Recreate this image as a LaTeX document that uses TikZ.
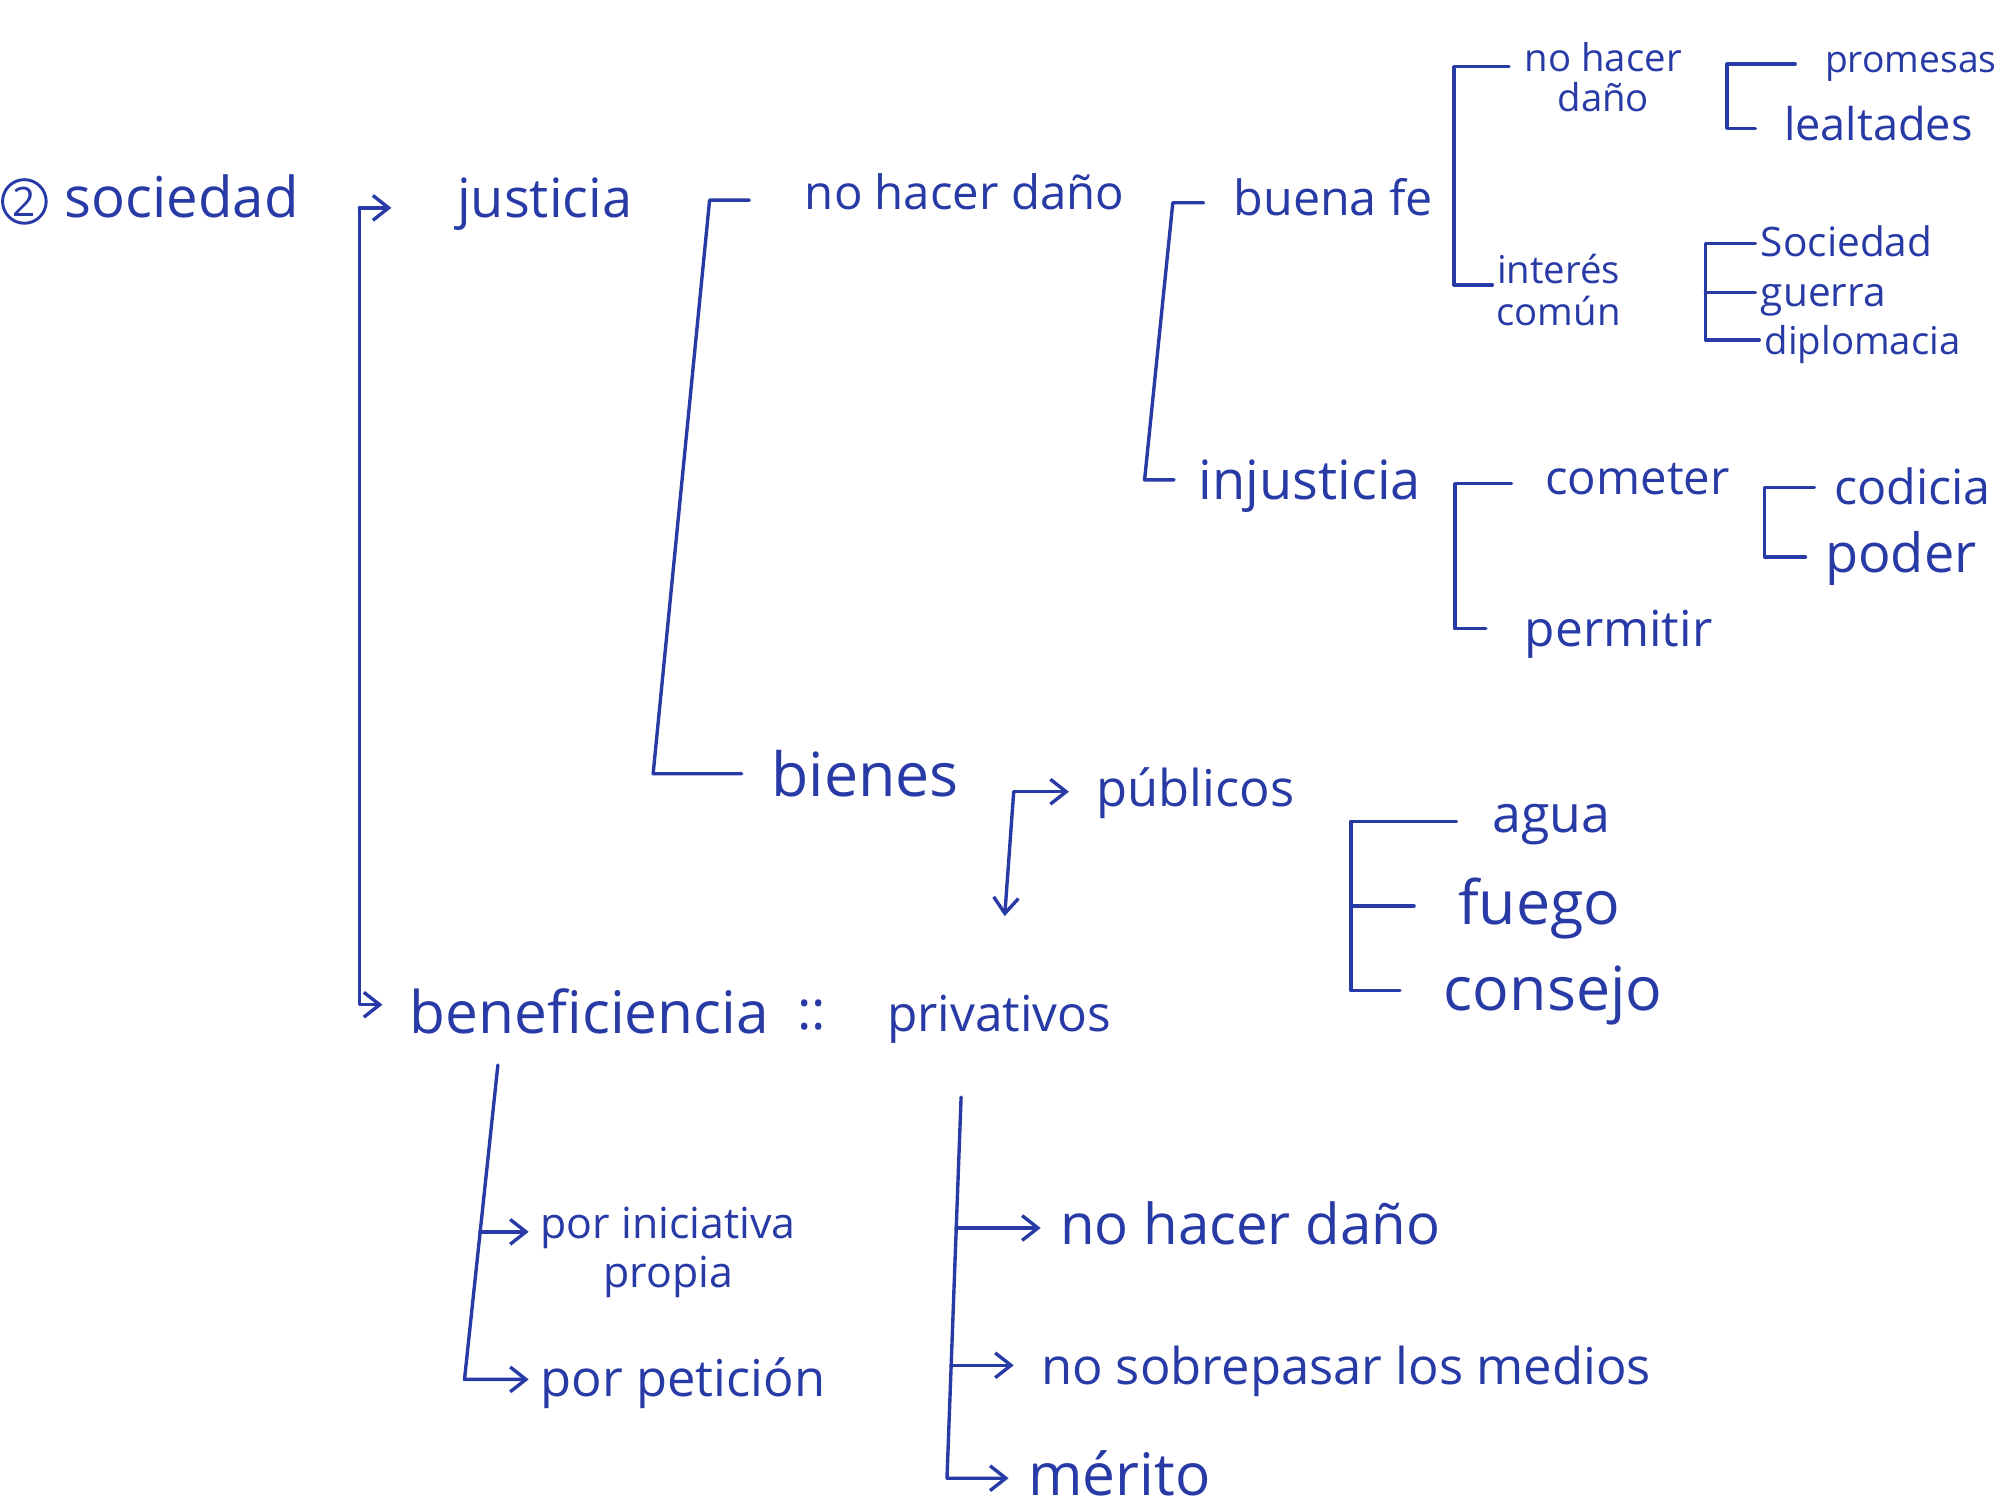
\documentclass[tikz,border=0pt]{standalone}
\usepackage{fontspec}
\setmainfont{Open Sans}
\usetikzlibrary{arrows.meta}
\definecolor{ink}{RGB}{40,58,165}
\begin{document}
\begin{tikzpicture}[x=0.02cm,y=-0.02cm,line width=1.5pt,draw=ink,line cap=round,line join=round,
  t/.style={anchor=mid west,inner sep=0pt,text=ink,yshift={-#1*0.008cm},font=\fontsize{#1}{#1}\selectfont},
  tm/.style 2 args={anchor=west,inner sep=0pt,align=center,text=ink,font=\fontsize{#1}{#2}\selectfont},
  ar/.style={-{Straight Barb[length=7pt,width=11pt]}}]
\fill[white] (0,0) rectangle (1568,1175);
\useasboundingbox (0,0) rectangle (1568,1175);
% ---- nodes ----
\node[draw=ink,circle,line width=1.3pt,minimum size=0.68cm,inner sep=0pt,text=ink,font=\fontsize{18}{18}\selectfont] (n2) at (19,157) {2};
\node[t=25] (soc) at (49,155) {sociedad};
\node[t=24] (jus) at (355,155) {justicia};
\node[t=21] (nhd) at (626,150) {no hacer daño};
\node[t=21.5] (bfe) at (960,155) {buena fe};
\node[tm={17}{18}] (nhd2) at (1187,60) {no hacer\\daño};
\node[tm={17}{19}] (ic) at (1165,226) {interés\\común};
\node[t=16.5] (prom) at (1421,45) {promesas};
\node[t=20] (leal) at (1389,97) {lealtades};
\node[t=18] (soc2) at (1371,188) {Sociedad};
\node[t=18] (gue) at (1371,227) {guerra};
\node[t=17] (dip) at (1374,265) {diplomacia};
\node[t=24] (inj) at (933,375) {injusticia};
\node[t=21] (com) at (1203,372) {cometer};
\node[t=22] (per) at (1187,490) {permitir};
\node[t=21.5] (cod) at (1428,380) {codicia};
\node[t=24] (pod) at (1421,432) {poder};
\node[t=27] (bien) at (600,605) {bienes};
\node[t=22.5] (pub) at (853,615) {públicos};
\node[t=23] (agua) at (1162,635) {agua};
\node[t=27] (fue) at (1135,705) {fuego};
\node[t=27] (cons) at (1124,772) {consejo};
\node[t=26] (ben) at (318,790) {beneficiencia};
\node[t=24] (dc) at (620,788) {::};
\node[t=22] (priv) at (690,790) {privativos};
\node[tm={19}{22}] (pin) at (420,976) {por iniciativa\\propia};
\node[t=22.5] (ppet) at (420,1075) {por petición};
\node[t=25] (nhd3) at (825,955) {no hacer daño};
\node[t=22.5] (nsob) at (810,1065) {no sobrepasar los medios};
\node[t=26] (mer) at (800,1150) {mérito};
% ---- bracket corners ----
\coordinate (b1t) at (280,162);  \coordinate (b1b) at (280,783);
\coordinate (b2t) at (553,156);  \coordinate (b2b) at (509,603);
\coordinate (b3t) at (914,158);  \coordinate (b3b) at (892,374);
\coordinate (b4t) at (1133,52);  \coordinate (b4b) at (1133,222);
\coordinate (b5t) at (1346,50);  \coordinate (b5b) at (1346,100);
\coordinate (b6t) at (1329,190); \coordinate (b6m) at (1329,228); \coordinate (b6b) at (1329,265);
\coordinate (b7t) at (1134,377); \coordinate (b7b) at (1134,490);
\coordinate (b8t) at (1375,380); \coordinate (b8b) at (1375,434);
\coordinate (b9t) at (1053,640); \coordinate (b9m) at (1053,706); \coordinate (b9b) at (1053,772);
\coordinate (b10) at (790,617);
\coordinate (b11t) at (388,830); \coordinate (b11m) at (374,960); \coordinate (b11b) at (362,1075);
\coordinate (b12t) at (749,855); \coordinate (b12m1) at (745,957); \coordinate (b12m2) at (741,1064); \coordinate (b12b) at (738,1152);
% ---- connectors ----
\draw[ar,shorten >=1.0cm] (b1t) -- (b1t -| jus.west);
\draw[ar,shorten >=0.4cm] (b1t) -- (b1b) -- (b1b -| ben.west);
\draw[shorten <=0.84cm,shorten >=0.44cm] (b2t -| nhd.west) -- (b2t) -- (b2b) -- (b2b -| bien.west);
\draw[shorten <=0.44cm,shorten >=0.36cm] (b3t -| bfe.west) -- (b3t) -- (b3b) -- (b3b -| inj.west);
\draw[shorten <=0.22cm,shorten >=0.04cm] (b4t -| nhd2.west) -- (b4t) -- (b4b) -- (b4b -| ic.west);
\draw[shorten <=0.44cm,shorten >=0.42cm] (b5t -| prom.west) -- (b5t) -- (b5b) -- (b5b -| leal.west);
\draw[shorten <=0.06cm,shorten >=0.06cm] (b6t -| soc2.west) -- (b6t) -- (b6b) -- (b6b -| dip.west);
\draw[shorten >=0.06cm] (b6m) -- (b6m -| gue.west);
\draw[shorten <=0.5cm,shorten >=0.58cm] (b7t -| com.west) -- (b7t) -- (b7b) -- (b7b -| per.west);
\draw[shorten <=0.28cm,shorten >=0.28cm] (b8t -| cod.west) -- (b8t) -- (b8b) -- (b8b -| pod.west);
\draw[shorten <=0.54cm,shorten >=0.66cm] (b9t -| agua.west) -- (b9t) -- (b9b) -- (b9b -| cons.west);
\draw[shorten >=0.66cm] (b9m) -- (b9m -| fue.west);
\draw[ar,shorten >=0.4cm] (b10) -- (b10 -| pub.west);
\draw[ar,shorten >=1.2cm] (b10) -- (priv.north);
\draw[ar,shorten >=0.16cm] (b11t) -- (b11b) -- (b11b -| ppet.west);
\draw[ar,shorten >=0.16cm] (b11m) -- (b11m -| pin.west);
\draw[ar,shorten >=0.28cm] (b12t) -- (b12b) -- (b12b -| mer.west);
\draw[ar,shorten >=0.28cm] (b12m1) -- (b12m1 -| nhd3.west);
\draw[ar,shorten >=0.4cm] (b12m2) -- (b12m2 -| nsob.west);
\end{tikzpicture}
\end{document}
